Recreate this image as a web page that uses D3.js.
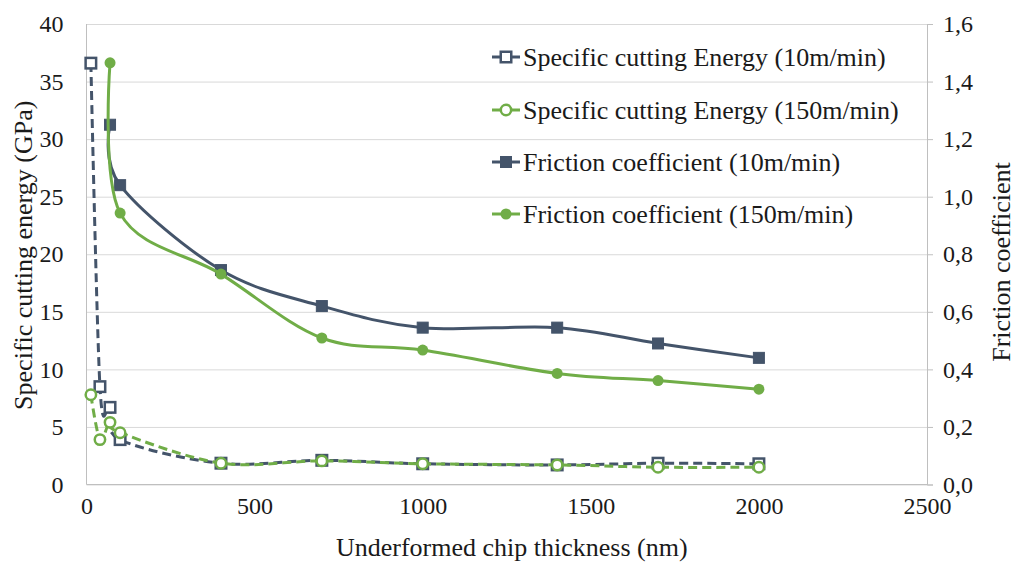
<!DOCTYPE html>
<html lang="en">
<head>
  <meta charset="UTF-8">
  <script src="https://d3js.org/d3.v7.min.js"></script>
  <title>cutting energy</title>
  <style>
    body { margin: 0; background: #fff; }
  </style>
</head>
<body>
  <svg id="chart" width="1015" height="562"></svg>
  <script>
    // data
    const thicknessSCE = [13, 40, 70, 100, 400, 700, 1000, 1400, 1700, 2000];
    const sce10 = [36.6, 8.5, 6.7, 3.9, 1.85, 2.1, 1.8, 1.7, 1.85, 1.8];
    const sce150 = [7.8, 3.9, 5.4, 4.5, 1.85, 2.05, 1.8, 1.7, 1.5, 1.5];

    const thicknessFric = [70, 100, 400, 700, 1000, 1400, 1700, 2000];
    const fric10 = [1.25, 1.04, 0.745, 0.62, 0.545, 0.545, 0.49, 0.44];
    const fric150 = [1.465, 0.943, 0.731, 0.509, 0.467, 0.386, 0.361, 0.331];

    const xTicks = [0, 500, 1000, 1500, 2000, 2500];
    const leftTicks = [0, 5, 10, 15, 20, 25, 30, 35, 40];
    const rightTicks = [0, 0.2, 0.4, 0.6, 0.8, 1.0, 1.2, 1.4, 1.6];

    const seriesNames = [
      "Specific cutting Energy (10m/min)",
      "Specific cutting Energy (150m/min)",
      "Friction coefficient (10m/min)",
      "Friction coefficient (150m/min)"
    ];

    const blue = "#44546a";
    const green = "#70ad47";
    const serif = "Liberation Serif";
    const ink = "#1a1a1a";

    const svg = d3.select("#chart");
    const margin = { top: 24, right: 88, bottom: 77.5, left: 86.5 };
    const width = 1015, height = 562;
    const x = d3.scaleLinear().domain([0, 2500]).range([margin.left, width - margin.right]);
    const yL = d3.scaleLinear().domain([0, 40]).range([height - margin.bottom, margin.top]);
    const yR = d3.scaleLinear().domain([0, 1.6]).range([height - margin.bottom, margin.top]);

    const styleTicks = g => g.selectAll("text")
      .style("font-family", serif).style("font-size", "24px").attr("fill", ink);

    // gridlines
    svg.append("g")
      .attr("transform", `translate(${margin.left},0)`)
      .call(d3.axisLeft(yL).tickValues(leftTicks).tickSize(-(x.range()[1] - margin.left)).tickFormat(""))
      .call(g => g.select(".domain").remove())
      .call(g => g.selectAll("line").attr("stroke", "#d9d9d9").attr("stroke-width", 1));

    // plot frame (left + bottom lines)
    svg.append("line").attr("x1", margin.left).attr("x2", margin.left)
      .attr("y1", yL(40)).attr("y2", yL(0)).attr("stroke", "#bfbfbf");
    svg.append("line").attr("x1", margin.left).attr("x2", x(2500))
      .attr("y1", yL(0)).attr("y2", yL(0)).attr("stroke", "#bfbfbf");

    // left axis labels
    svg.append("g")
      .attr("transform", `translate(${margin.left},0)`)
      .call(d3.axisLeft(yL).tickValues(leftTicks).tickSize(0).tickPadding(23))
      .call(g => g.select(".domain").remove())
      .call(styleTicks);

    // bottom axis labels
    svg.append("g")
      .attr("transform", `translate(0,${yL(0)})`)
      .call(d3.axisBottom(x).tickValues(xTicks).tickSize(0).tickPadding(12).tickFormat(d3.format("d")))
      .call(g => g.select(".domain").remove())
      .call(styleTicks);

    // right axis
    svg.append("g")
      .attr("transform", `translate(${x(2500)},0)`)
      .call(d3.axisRight(yR).tickValues(rightTicks).tickSize(6).tickPadding(10)
        .tickFormat(d => d3.format(".1f")(d).replace(".", ",")))
      .call(g => g.selectAll("path, line").attr("stroke", "#bfbfbf"))
      .call(styleTicks);

    // axis titles
    const title = (t, transform) => svg.append("text")
      .attr("transform", transform)
      .attr("text-anchor", "middle")
      .style("font-family", serif).style("font-size", "26px").attr("fill", ink)
      .text(t);
    title("Underformed chip thickness (nm)", `translate(${(margin.left + x(2500)) / 2 + 5},556)`);
    title("Specific cutting energy (GPa)", `translate(32,${(yL(0) + yL(40)) / 2 + 1}) rotate(-90)`);
    title("Friction coefficient", `translate(1010,262) rotate(-90)`);

    const curve = d3.curveCardinal.tension(0);

    const series = [
      { name: seriesNames[0], xs: thicknessSCE, ys: sce10, y: yL, color: blue, dash: "9,5", marker: "square", open: true },
      { name: seriesNames[1], xs: thicknessSCE, ys: sce150, y: yL, color: green, dash: "9,5", marker: "circle", open: true },
      { name: seriesNames[2], xs: thicknessFric, ys: fric10, y: yR, color: blue, dash: null, marker: "square", open: false },
      { name: seriesNames[3], xs: thicknessFric, ys: fric150, y: yR, color: green, dash: null, marker: "circle", open: false }
    ];

    const drawMarker = function (g, s, cx, cy) {
      if (s.marker === "square") {
        const size = s.open ? 10.5 : 11;
        g.append("rect")
          .attr("x", cx - size / 2).attr("y", cy - size / 2)
          .attr("width", size).attr("height", size)
          .attr("fill", s.open ? "#fff" : s.color)
          .attr("stroke", s.color).attr("stroke-width", s.open ? 2.5 : 1);
      } else {
        g.append("circle")
          .attr("cx", cx).attr("cy", cy).attr("r", s.open ? 5.2 : 5.5)
          .attr("fill", s.open ? "#fff" : s.color)
          .attr("stroke", s.color).attr("stroke-width", s.open ? 2.5 : 0);
      }
    };

    const plot = svg.append("g");
    series.forEach(s => {
      const pts = s.xs.map((v, i) => [x(v), s.y(s.ys[i])]);
      const g = plot.append("g");
      g.append("path")
        .attr("d", d3.line().curve(curve)(pts))
        .attr("fill", "none")
        .attr("stroke", s.color)
        .attr("stroke-width", 3)
        .attr("stroke-dasharray", s.dash);
      pts.forEach(p => drawMarker(g, s, p[0], p[1]));
    });

    // legend
    const legendY = [57, 110, 162, 214];
    const legend = svg.append("g");
    series.forEach((s, i) => {
      const g = legend.append("g");
      g.append("line")
        .attr("x1", 492).attr("x2", 520)
        .attr("y1", legendY[i]).attr("y2", legendY[i])
        .attr("stroke", s.color).attr("stroke-width", 3);
      drawMarker(g, s, 506, legendY[i]);
      g.append("text")
        .attr("x", 523).attr("y", legendY[i]).attr("dy", "0.33em")
        .style("font-family", serif).style("font-size", "26px").attr("fill", ink)
        .text(s.name);
    });
  </script>
</body>
</html>
